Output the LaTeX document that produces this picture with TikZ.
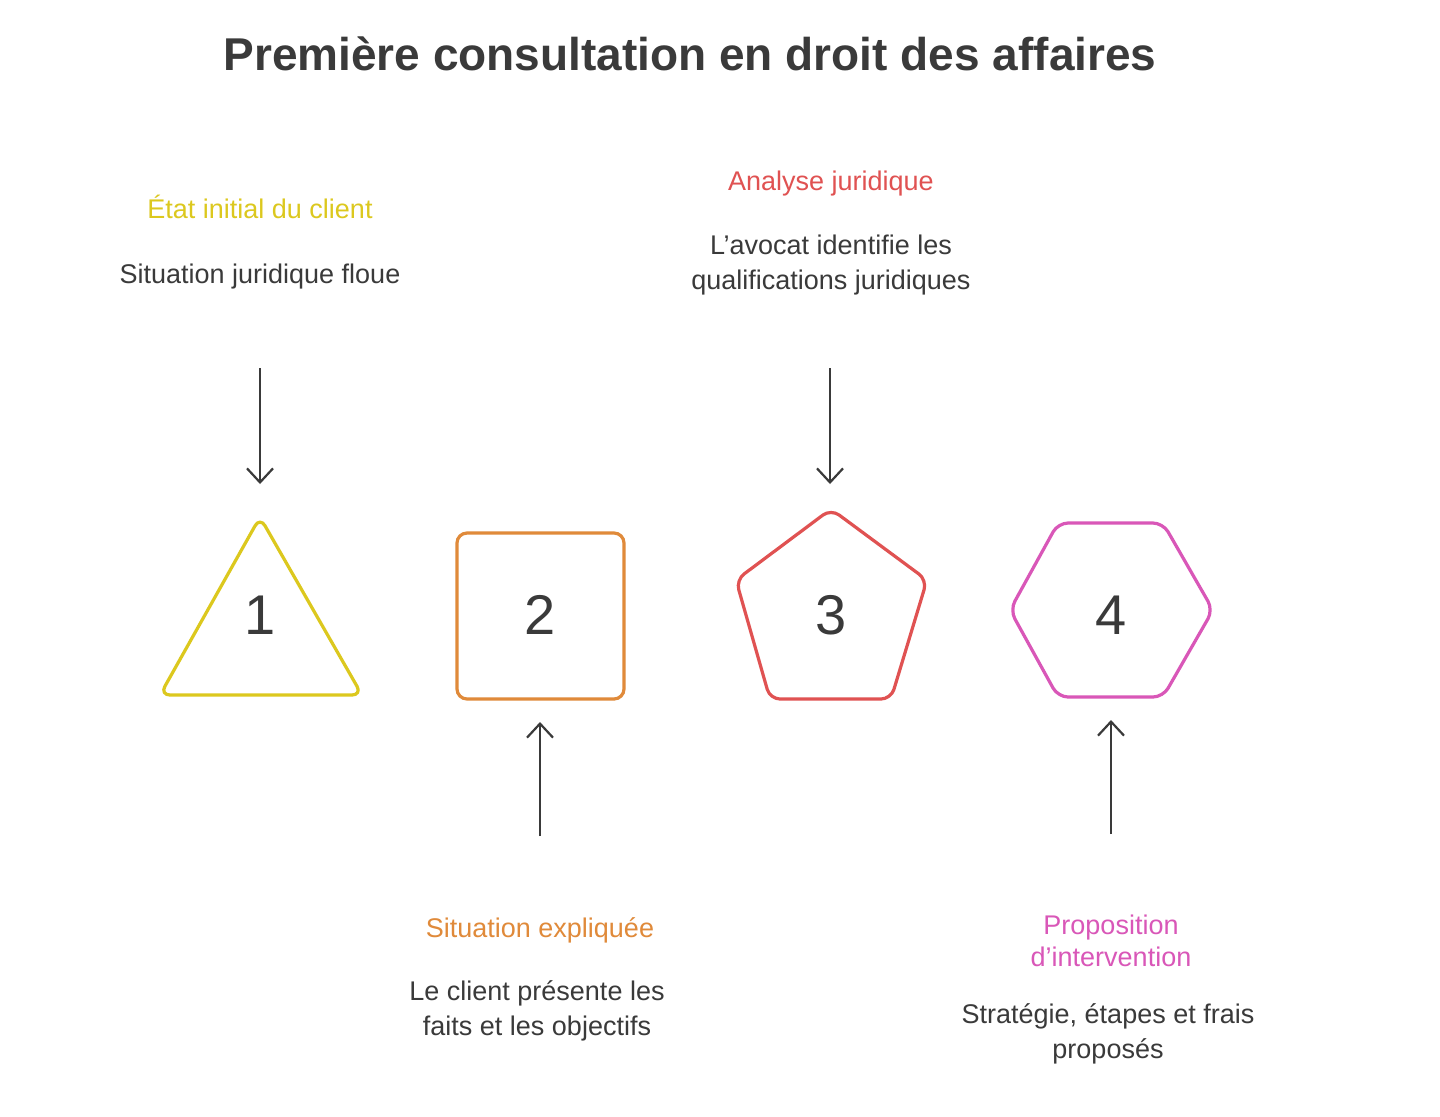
\documentclass[tikz,border=0pt]{standalone}
\usepackage{fontspec}
\setmainfont{Liberation Sans}
\usetikzlibrary{arrows.meta}
\definecolor{cy}{HTML}{DCC81E}
\definecolor{co}{HTML}{E08A3A}
\definecolor{cr}{HTML}{E05252}
\definecolor{cp}{HTML}{D957B8}
\definecolor{tx}{HTML}{3A3A3A}
\begin{document}
\begin{tikzpicture}[x=0.5pt,y=-0.5pt,
 shp/.style={line width=1.6pt,rounded corners=5pt,line join=round},
 num/.style={font=\fontsize{28}{30}\selectfont,text=tx},
 hd/.style={font=\fontsize{13.5}{16}\selectfont,align=center},
 bd/.style={font=\fontsize{13.5}{17.5}\selectfont,align=center,text=tx},
 arr/.style={line width=1.1pt,draw=tx,-{Straight Barb[length=7pt,width=13pt]}}]
\useasboundingbox[fill=white] (0,0) rectangle (1440,1116);
\node[font=\bfseries\fontsize{23}{26}\selectfont,text=tx] (title) at (690,54) {Première consultation en droit des affaires};
% shapes
\draw[shp,cy] (260,517) -- (362,695) -- (160,695) -- cycle;
\draw[shp,co] (457,533) rectangle (624,699);
\draw[shp,cr] (831,509) -- (927,580) -- (891,699) -- (770,699) -- (736,580) -- cycle;
\draw[shp,cp] (1010,610) -- (1058,523) -- (1163,523) -- (1213,610) -- (1163,697) -- (1058,697) -- cycle;
\node[num] (n1) at (260,615) {1};
\node[num] (n2) at (540,615) {2};
\node[num] (n3) at (831,615) {3};
\node[num] (n4) at (1111,615) {4};
% texts
\node[hd,text=cy] (h1) at (260,207) {État initial du client};
\node[bd] (b1) at (260,277) {Situation juridique floue};
\node[hd,text=cr] (h3) at (831,184) {Analyse juridique};
\node[bd] (b3) at (831,265) {L'avocat identifie les\\qualifications juridiques};
\node[hd,text=co] (h2) at (540,930) {Situation expliquée};
\node[bd] (b2) at (537,1011) {Le client présente les\\faits et les objectifs};
\node[hd,text=cp] (h4) at (1111,941) {Proposition\\d'intervention};
\node[bd] (b4) at (1108,1034) {Stratégie, étapes et frais\\proposés};
% arrows
\coordinate (a1s) at (260,368); \coordinate (a1e) at (260,484);
\coordinate (a3s) at (830,368); \coordinate (a3e) at (830,484);
\coordinate (a2s) at (540,836); \coordinate (a2e) at (540,722);
\coordinate (a4s) at (1111,834); \coordinate (a4e) at (1111,720);
\draw[arr] (a1s) -- (a1e);
\draw[arr] (a3s) -- (a3e);
\draw[arr] (a2s) -- (a2e);
\draw[arr] (a4s) -- (a4e);
\end{tikzpicture}
\end{document}
